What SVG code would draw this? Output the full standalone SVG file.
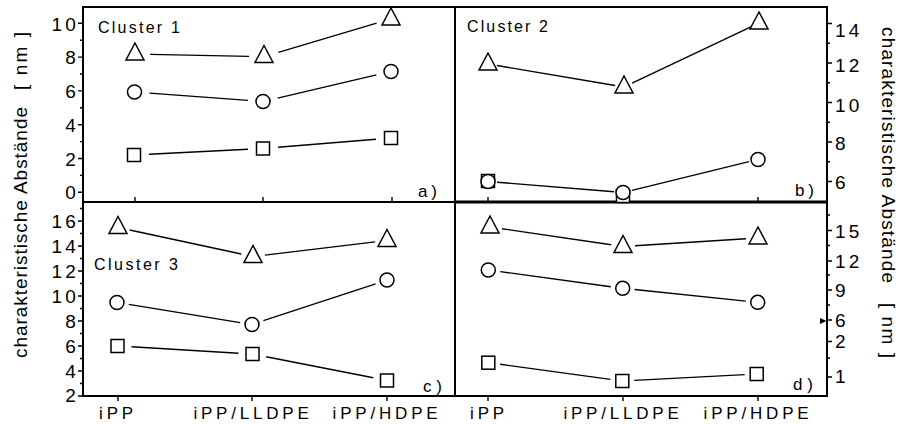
<svg xmlns="http://www.w3.org/2000/svg" width="899" height="424" viewBox="0 0 899 424">
<defs>
<style>
 .ax{stroke:#000;stroke-width:2;fill:none}
 .tk{stroke:#000;stroke-width:1.4;fill:none}
 .ln{stroke:#000;stroke-width:1.4;fill:none}
 .mk{fill:#fff;stroke:#000;stroke-width:1.5}
 text{font-family:"Liberation Sans",Arial,sans-serif;fill:#000}
 .num{font-size:19px;letter-spacing:3.2px}
 .numL{text-anchor:end}
 .cat{font-size:17px;letter-spacing:3.8px;text-anchor:middle}
 .lbl{font-size:16px}
 .pl{font-size:17px}
 .ttl{font-size:19px}
</style>
<polygon id="tri" class="mk" points="0,-11 9,6 -9,6"/>
<circle id="cir" class="mk" r="7"/>
<rect id="sq" class="mk" x="-6.5" y="-6.5" width="13" height="13"/>
</defs>
<rect width="899" height="424" fill="#fff"/>

<!-- frame and panel dividers -->
<g id="frame">
 <rect class="ax" x="83" y="7" width="744" height="389"/>
 <line class="ax" x1="455" y1="7" x2="455" y2="396"/>
 <line stroke="#000" stroke-width="1.8" x1="83" y1="202" x2="455" y2="202"/>
 <line stroke="#000" stroke-width="3" x1="455" y1="202" x2="827" y2="202"/>
</g>

<!-- tick marks -->
<g id="ticks" class="tk">
 <path d="M78 23.3H83M80 40.2H83M78 57.1H83M80 74H83M78 90.9H83M80 107.8H83M78 124.7H83M80 141.6H83M78 158.5H83M80 175.4H83M78 192.3H83M135 197V202M263 197V202M392 197V202"/>
 <path d="M80 208.5H83M78 221H83M80 233.5H83M78 246H83M80 258.5H83M78 271H83M80 283.5H83M78 296H83M80 308.5H83M78 321H83M80 333.5H83M78 346H83M80 358.5H83M78 371H83M80 383.5H83M78 396H83M118 396V401M252 396V401M387 396V401"/>
 <path d="M827 23.5H832M827 43.2H830M827 63H832M827 82.7H830M827 102.5H832M827 122.2H830M827 142H832M827 161.7H830M827 181.5H832M488 197V202M623 197V202M758 197V202"/>
 <path d="M827 215H830M827 230.5H832M827 245.5H830M827 261H832M827 275H830M827 290H832M827 305H830M827 320H832M827 341.5H832M827 358H830M827 377H832M488 396V401M623 396V401M758 396V401"/>
 <polygon points="820,318 826.5,321 820,324" fill="#000" stroke="none"/>
</g>

<!-- axis numbers -->
<g id="axis-numbers" class="num">
 <g class="numL">
  <text x="79" y="30.5">10</text><text x="79" y="64.3">8</text><text x="79" y="98">6</text>
  <text x="79" y="132">4</text><text x="79" y="166">2</text><text x="79" y="199">0</text>
  <text x="79" y="228">16</text><text x="79" y="253">14</text><text x="79" y="278">12</text>
  <text x="79" y="303">10</text><text x="79" y="328">8</text><text x="79" y="353">6</text>
  <text x="79" y="378">4</text><text x="79" y="402">2</text>
 </g>
 <text x="835" y="37">14</text><text x="835" y="72">12</text><text x="835" y="112">10</text>
 <text x="835" y="150">8</text><text x="835" y="189">6</text>
 <text x="835" y="238">15</text><text x="835" y="268">12</text><text x="835" y="297">9</text>
 <text x="835" y="327">6</text><text x="835" y="348">2</text><text x="835" y="383">1</text>
</g>

<!-- category labels -->
<g id="categories" class="cat">
 <text x="118" y="419">iPP</text><text x="253" y="419">iPP/LLDPE</text><text x="387" y="419">iPP/HDPE</text>
 <text x="489" y="419">iPP</text><text x="623" y="419">iPP/LLDPE</text><text x="758" y="419">iPP/HDPE</text>
</g>

<!-- axis titles -->
<g id="titles" class="ttl">
 <text transform="translate(27,358) rotate(-90)" textLength="251" lengthAdjust="spacing">charakteristische Abstände</text>
 <text transform="translate(27,90) rotate(-90)" textLength="58" lengthAdjust="spacing">[ nm ]</text>
 <text transform="translate(882,27) rotate(90)" textLength="256" lengthAdjust="spacing">charakteristische Abstände</text>
 <text transform="translate(882,303) rotate(90)" textLength="55" lengthAdjust="spacing">[ nm ]</text>
</g>

<!-- panel captions -->
<g id="captions">
 <text class="lbl" x="98" y="33" textLength="82" lengthAdjust="spacing">Cluster 1</text>
 <text class="lbl" x="467" y="32" textLength="81" lengthAdjust="spacing">Cluster 2</text>
 <text class="lbl" x="94" y="270" textLength="84" lengthAdjust="spacing">Cluster 3</text>
 <text class="pl" x="418" y="197" textLength="19" lengthAdjust="spacing">a)</text>
 <text class="pl" x="795" y="196" textLength="19" lengthAdjust="spacing">b)</text>
 <text class="pl" x="423" y="392" textLength="19" lengthAdjust="spacing">c)</text>
 <text class="pl" x="793" y="390" textLength="20" lengthAdjust="spacing">d)</text>
</g>

<!-- series connectors -->
<g id="connectors" class="ln">
 <!-- panel a -->
 <line x1="150" y1="54.4" x2="249" y2="56.4"/><line x1="278.4" y1="52.3" x2="376.6" y2="23.2"/>
 <line x1="149.5" y1="93.1" x2="248" y2="100.4"/><line x1="277.6" y1="98.1" x2="376.4" y2="74.9"/>
 <line x1="149" y1="154.2" x2="248" y2="149.3"/><line x1="278" y1="147.3" x2="376" y2="139.2"/>
 <!-- panel b -->
 <line x1="496.9" y1="65.5" x2="615.1" y2="85.5"/><line x1="632.1" y1="83.1" x2="750.9" y2="26.9"/>
 <line x1="497" y1="182.2" x2="614" y2="191.8"/><line x1="632" y1="190.4" x2="749" y2="161.6"/>
 <!-- panel c -->
 <line x1="129.7" y1="230" x2="241.3" y2="254"/><line x1="264.9" y1="255.1" x2="375.1" y2="241.9"/>
 <line x1="128.8" y1="304.4" x2="240.2" y2="322.6"/><line x1="263.4" y1="320.7" x2="375.6" y2="283.8"/>
 <line x1="131.5" y1="346.8" x2="238.5" y2="353.2"/><line x1="266.2" y1="356.7" x2="373.3" y2="377.8"/>
 <!-- panel d -->
 <line x1="501.9" y1="228.7" x2="611.1" y2="244.8"/><line x1="635" y1="245.7" x2="746" y2="238.8"/>
 <line x1="500.2" y1="271.6" x2="610.8" y2="286.7"/><line x1="634.6" y1="289.5" x2="745.8" y2="301.1"/>
 <line x1="500.2" y1="364.3" x2="610.4" y2="379.4"/><line x1="634.3" y1="380.4" x2="744.7" y2="374.6"/>
</g>

<!-- data markers -->
<g id="panel-a">
 <use href="#tri" x="135" y="54"/><use href="#tri" x="264" y="56.5"/><use href="#tri" x="391" y="19"/>
 <use href="#cir" x="134.5" y="92"/><use href="#cir" x="263" y="101.5"/><use href="#cir" x="391" y="71.5"/>
 <use href="#sq" x="134" y="155"/><use href="#sq" x="263" y="148.5"/><use href="#sq" x="391" y="138"/>
</g>
<g id="panel-b">
 <use href="#sq" x="488" y="181"/><use href="#sq" x="623" y="196"/>
 <use href="#tri" x="488" y="64"/><use href="#tri" x="624" y="87"/><use href="#tri" x="759" y="23"/>
 <use href="#cir" x="488" y="181.5"/><use href="#cir" x="623" y="192.5"/><use href="#cir" x="758" y="159.5"/>
</g>
<g id="panel-c">
 <use href="#tri" x="118" y="227.5"/><use href="#tri" x="253" y="256.5"/><use href="#tri" x="387" y="240.5"/>
 <use href="#cir" x="117" y="302.5"/><use href="#cir" x="252" y="324.5"/><use href="#cir" x="387" y="280"/>
 <use href="#sq" x="117.5" y="346"/><use href="#sq" x="252.5" y="354"/><use href="#sq" x="387" y="380.5"/>
</g>
<g id="panel-d">
 <use href="#tri" x="490" y="227"/><use href="#tri" x="623" y="246.5"/><use href="#tri" x="758" y="238"/>
 <use href="#cir" x="488.3" y="270"/><use href="#cir" x="622.7" y="288.3"/><use href="#cir" x="757.7" y="302.3"/>
 <use href="#sq" x="488.3" y="362.7"/><use href="#sq" x="622.3" y="381"/><use href="#sq" x="756.7" y="374"/>
</g>
</svg>
